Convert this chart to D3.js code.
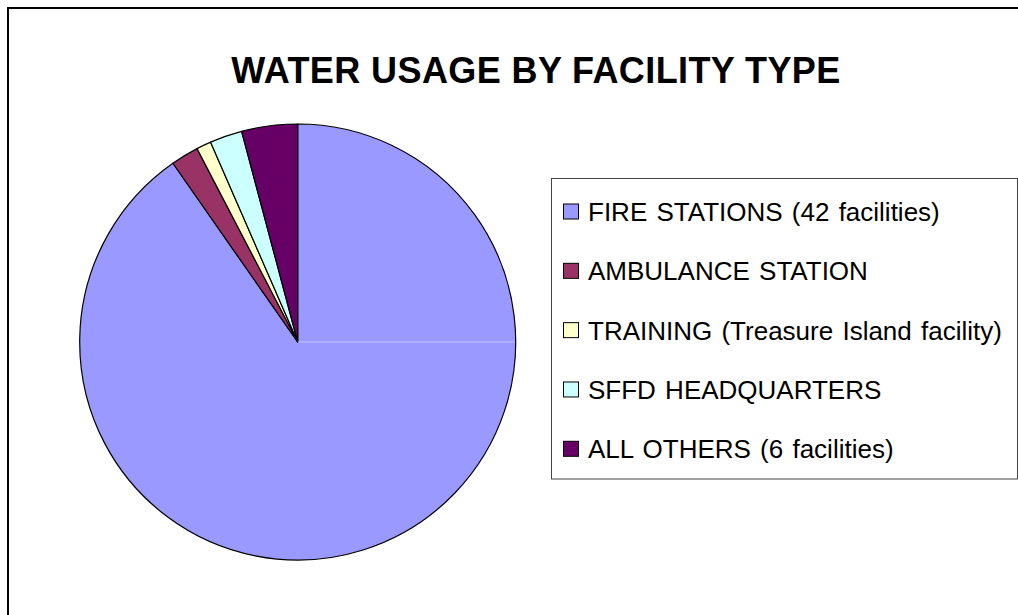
<!DOCTYPE html>
<html>
<head>
<meta charset="utf-8">
<script src="https://cdn.jsdelivr.net/npm/d3@7"></script>
<style>
  html, body { margin: 0; padding: 0; background: #fff; }
  svg { display: block; }
</style>
</head>
<body>
<svg id="chart" width="1018" height="615"></svg>
<script>
const title = "WATER USAGE BY FACILITY TYPE";
const categories = [
  "FIRE STATIONS (42 facilities)",
  "AMBULANCE STATION",
  "TRAINING (Treasure Island facility)",
  "SFFD HEADQUARTERS",
  "ALL OTHERS (6 facilities)"
];
const values = [90.3, 2.06, 1.10, 2.40, 4.14];
const colors = ["#9999FF", "#993366", "#FFFFCC", "#CCFFFF", "#660066"];

const svg = d3.select("#chart");

// outer frame (extends beyond the view on right/bottom)
svg.append("rect")
  .attr("x", 8).attr("y", 8)
  .attr("width", 1100).attr("height", 700)
  .attr("fill", "#fff")
  .attr("stroke", "#000").attr("stroke-width", 2);

// title
svg.append("text")
  .attr("x", 536).attr("y", 83)
  .attr("text-anchor", "middle")
  .attr("font-family", "Liberation Sans, Arial, sans-serif")
  .attr("font-weight", "bold")
  .attr("font-size", 36)
  .attr("letter-spacing", 0.4)
  .text(title);

// pie
const cx = 297.7, cy = 342, r = 218;
const data = categories.map((c, i) => ({ cat: c, value: values[i], color: colors[i] }));
const pie = d3.pie().sort(null).value(d => d.value).startAngle(0).endAngle(2 * Math.PI);
const arc = d3.arc().innerRadius(0).outerRadius(r);

const g = svg.append("g").attr("transform", `translate(${cx},${cy})`);
g.selectAll("path.slice")
  .data(pie(data))
  .join("path")
  .attr("class", "slice")
  .attr("d", arc)
  .attr("fill", d => d.data.color)
  .attr("stroke", "#000")
  .attr("stroke-width", 1.2)
  .attr("stroke-linejoin", "round");

// faint seam line at 3 o'clock (rendering artifact in the original)
g.append("line")
  .attr("x1", 0).attr("y1", 0)
  .attr("x2", r - 1).attr("y2", 0)
  .attr("stroke", "#c4c4ff")
  .attr("stroke-width", 1);

// legend
const lg = svg.append("g");
lg.append("rect")
  .attr("x", 551.5).attr("y", 178.5)
  .attr("width", 466).attr("height", 300.5)
  .attr("fill", "#fff")
  .attr("stroke", "#444").attr("stroke-width", 1);

const rowY = d3.scalePoint().domain(categories).range([221, 458.3]);
const items = lg.selectAll("g.item")
  .data(data)
  .join("g")
  .attr("class", "item")
  .attr("transform", d => `translate(0,${rowY(d.cat)})`);

items.append("rect")
  .attr("x", 563.5).attr("y", -17)
  .attr("width", 15).attr("height", 15)
  .attr("fill", d => d.color)
  .attr("stroke", "#000").attr("stroke-width", 1);

items.append("text")
  .attr("x", 588).attr("y", 0)
  .attr("font-family", "Liberation Sans, Arial, sans-serif")
  .attr("font-size", 26)
  .attr("word-spacing", 2)
  .attr("fill", "#000")
  .text(d => d.cat);
</script>
</body>
</html>
